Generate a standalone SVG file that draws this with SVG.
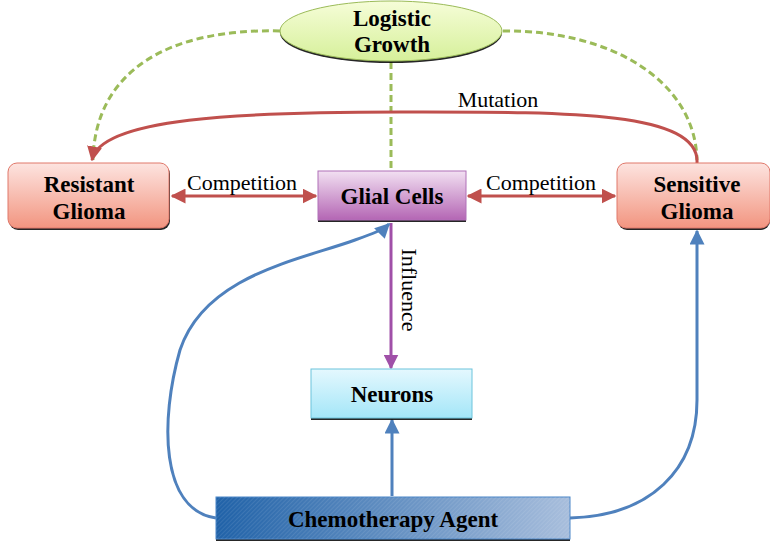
<svg xmlns="http://www.w3.org/2000/svg" width="770" height="546" viewBox="0 0 770 546">
  <defs>
    <linearGradient id="gYellow" x1="0" y1="0" x2="0" y2="1">
      <stop offset="0" stop-color="#f6fdd8"/>
      <stop offset="1" stop-color="#d6f09a"/>
    </linearGradient>
    <linearGradient id="gSalmon" x1="0" y1="0" x2="0" y2="1">
      <stop offset="0" stop-color="#fde4e0"/>
      <stop offset="1" stop-color="#f29580"/>
    </linearGradient>
    <linearGradient id="gPurple" x1="0" y1="0" x2="0" y2="1">
      <stop offset="0" stop-color="#f2e0f2"/>
      <stop offset="1" stop-color="#b466b4"/>
    </linearGradient>
    <linearGradient id="gCyan" x1="0" y1="0" x2="0" y2="1">
      <stop offset="0" stop-color="#e4f8fe"/>
      <stop offset="1" stop-color="#a4e6f8"/>
    </linearGradient>
    <linearGradient id="gBlue" x1="0" y1="0" x2="1" y2="0">
      <stop offset="0" stop-color="#2062a8"/>
      <stop offset="1" stop-color="#a8bedc"/>
    </linearGradient>
    <pattern id="hatch" width="3" height="3" patternUnits="userSpaceOnUse" patternTransform="rotate(45)">
      <rect width="3" height="3" fill="none"/>
      <line x1="0" y1="0" x2="0" y2="3" stroke="#ffffff" stroke-opacity="0.18" stroke-width="1"/>
    </pattern>
    <marker id="arRed" viewBox="0 0 10 10" refX="9" refY="5" markerWidth="5" markerHeight="5" orient="auto-start-reverse" markerUnits="strokeWidth">
      <path d="M0,0 L10,5 L0,10 z" fill="#c0504d"/>
    </marker>
    <marker id="arBlue" viewBox="0 0 10 10" refX="9" refY="5" markerWidth="5" markerHeight="5" orient="auto" markerUnits="strokeWidth">
      <path d="M0,0 L10,5 L0,10 z" fill="#4f81bd"/>
    </marker>
    <marker id="arPurple" viewBox="0 0 10 10" refX="9" refY="5" markerWidth="5" markerHeight="5" orient="auto" markerUnits="strokeWidth">
      <path d="M0,0 L10,5 L0,10 z" fill="#a050a8"/>
    </marker>
  </defs>
  <style>
    .lbl { font-family: "Liberation Serif", "Times New Roman", serif; font-weight: bold; font-size: 23px; fill: #000; text-anchor: middle; }
    .edge-lbl { font-family: "Liberation Serif", "Times New Roman", serif; font-size: 22px; fill: #000; text-anchor: middle; }
    .dash { fill: none; stroke: #9bbb59; stroke-width: 3; stroke-dasharray: 7 4; }
    .red { fill: none; stroke: #c0504d; stroke-width: 3; }
    .blue { fill: none; stroke: #4f81bd; stroke-width: 3; }
    .purple { fill: none; stroke: #a050a8; stroke-width: 3; }
    .shadow { fill: #000; opacity: 0.85; }
  </style>

  <rect width="770" height="546" fill="#ffffff"/>

  <g id="connectors">
    <!-- logistic growth feedback (dashed) -->
    <path class="dash" d="M280,31 C170,28 95,70 93,160"/>
    <path class="dash" d="M503,31 C610,30 695,80 697,160"/>
    <path class="dash" d="M391,62 L391,171"/>
    <!-- mutation -->
    <path class="red" d="M697,163 C700,110 560,112 400,112 C240,112 100,118 92,160" marker-end="url(#arRed)"/>
    <!-- competition -->
    <path class="red" d="M172,196 L316,196" marker-start="url(#arRed)" marker-end="url(#arRed)"/>
    <path class="red" d="M468,196 L615,196" marker-start="url(#arRed)" marker-end="url(#arRed)"/>
    <!-- influence -->
    <path class="purple" d="M391,223 L391,368" marker-end="url(#arPurple)"/>
    <!-- chemotherapy -->
    <path class="blue" d="M216,518 C160,510 160,420 180,350 C205,275 300,260 355,240 C372,234 383,230 389,224" marker-end="url(#arBlue)"/>
    <path class="blue" d="M392,496 L392,420" marker-end="url(#arBlue)"/>
    <path class="blue" d="M570,518 C650,516 697,470 697,400 L697,231" marker-end="url(#arBlue)"/>
    <text class="edge-lbl" x="498" y="107">Mutation</text>
    <text class="edge-lbl" x="242" y="190">Competition</text>
    <text class="edge-lbl" x="541" y="190">Competition</text>
    <text class="edge-lbl" transform="translate(402,290) rotate(90)">Influence</text>
  </g>

  <g id="logistic-growth">
    <ellipse cx="391" cy="33" rx="111" ry="30" fill="#000" opacity="0.85"/>
    <ellipse cx="391" cy="31" rx="111" ry="30" fill="url(#gYellow)" stroke="#9bbb59" stroke-width="1"/>
    <text class="lbl" x="392" y="26">Logistic</text>
    <text class="lbl" x="392" y="52">Growth</text>
  </g>

  <g id="resistant-glioma">
    <rect x="9" y="165" width="161" height="65" rx="9" class="shadow"/>
    <rect x="8" y="163" width="161" height="65" rx="9" fill="url(#gSalmon)" stroke="#e0786a" stroke-width="1"/>
    <text class="lbl" x="89" y="192">Resistant</text>
    <text class="lbl" x="89" y="219">Glioma</text>
  </g>

  <g id="glial-cells">
    <rect x="318" y="173" width="148" height="49" class="shadow"/>
    <rect x="318" y="171" width="148" height="49" fill="url(#gPurple)" stroke="#b070b8" stroke-width="1"/>
    <text class="lbl" x="392" y="204">Glial Cells</text>
  </g>

  <g id="sensitive-glioma">
    <rect x="618" y="165" width="152" height="65" rx="9" class="shadow"/>
    <rect x="617" y="163" width="153" height="65" rx="9" fill="url(#gSalmon)" stroke="#e0786a" stroke-width="1"/>
    <text class="lbl" x="697" y="192">Sensitive</text>
    <text class="lbl" x="697" y="219">Glioma</text>
  </g>

  <g id="neurons">
    <rect x="311" y="371" width="161" height="49" class="shadow"/>
    <rect x="311" y="369" width="161" height="49" fill="url(#gCyan)" stroke="#6cc4dc" stroke-width="1"/>
    <text class="lbl" x="392" y="402">Neurons</text>
  </g>

  <g id="chemotherapy-agent">
    <rect x="216" y="499" width="354" height="42" class="shadow"/>
    <rect x="216" y="497" width="354" height="42" fill="url(#gBlue)" stroke="#4a86c8" stroke-width="1"/>
    <rect x="216" y="497" width="354" height="42" fill="url(#hatch)"/>
    <text class="lbl" x="393" y="527">Chemotherapy Agent</text>
  </g>
</svg>
